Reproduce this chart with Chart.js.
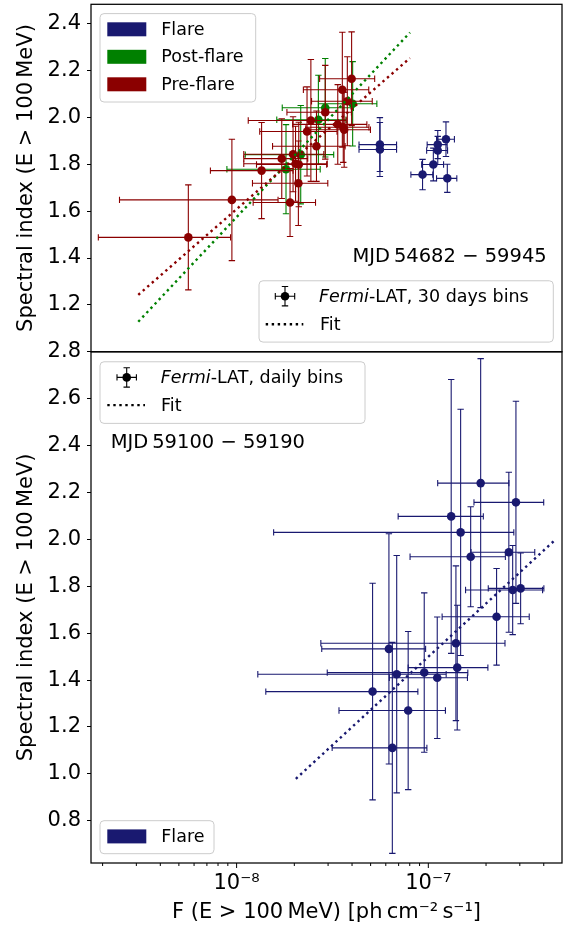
<!DOCTYPE html>
<html>
<head>
<meta charset="utf-8">
<script src="https://cdn.jsdelivr.net/npm/chart.js@4.4.1/dist/chart.umd.min.js"></script>
<style>
  html, body { margin: 0; padding: 0; background: #ffffff; }
  canvas { display: block; }
</style>
</head>
<body>
<canvas id="chart" width="569" height="929" style="width:569px;height:929px"></canvas>
<script>
// ---- Fermi-LAT 30-day bins, MJD 54682 - 59945 ----
const flare30Flux     = [5.59e-8, 5.59e-8, 1.236e-7, 1.12e-7, 1.12e-7, 1.062e-7, 9.33e-8, 1.256e-7];
const flare30FluxErr  = [1.24e-8, 1.24e-8, 1.32e-8, 1.34e-8, 1.40e-8, 1.39e-8, 1.22e-8, 1.52e-8];
const flare30Index    = [1.884, 1.863, 1.907, 1.884, 1.859, 1.799, 1.756, 1.740];
const flare30IndexErr = [0.115, 0.115, 0.074, 0.060, 0.060, 0.070, 0.065, 0.060];

const post30Flux      = [1.81e-8, 2.16e-8, 2.67e-8, 2.90e-8, 4.03e-8];
const post30FluxErr   = [9.2e-9, 1.05e-8, 1.05e-8, 1.17e-8, 1.36e-8];
const post30Index     = [1.779, 1.841, 1.990, 2.041, 2.058];
const post30IndexErr  = [0.19, 0.21, 0.19, 0.21, 0.18];

const pre30Flux       = [5.6e-9, 9.45e-9, 1.35e-8, 1.72e-8, 1.90e-8, 1.97e-8, 2.03e-8, 2.11e-8, 2.10e-8, 2.33e-8,
                         2.44e-8, 2.61e-8, 2.90e-8, 3.37e-8, 3.60e-8, 3.64e-8, 3.56e-8, 3.78e-8, 3.98e-8];
const pre30FluxErr    = [3.7e-9, 7.0e-9, 6.2e-9, 6.3e-9, 6.8e-9, 8.8e-9, 9.4e-9, 8.4e-9, 8.9e-9, 1.01e-8,
                         1.29e-8, 1.07e-8, 1.07e-8, 1.41e-8, 1.30e-8, 1.35e-8, 1.33e-8, 1.32e-8, 1.27e-8];
const pre30Index      = [1.488, 1.648, 1.773, 1.824, 1.637, 1.843, 1.802, 1.799, 1.719, 1.940,
                         1.987, 1.877, 2.022, 1.970, 1.958, 1.947, 2.118, 2.069, 2.165];
const pre30IndexErr   = [0.224, 0.259, 0.205, 0.170, 0.145, 0.160, 0.160, 0.180, 0.180, 0.190,
                         0.260, 0.150, 0.200, 0.170, 0.150, 0.160, 0.245, 0.190, 0.200];

// linear fits (index vs log flux), end points
const fitPostFlux  = [3.07e-9, 8.02e-8];
const fitPostIndex = [1.128, 2.362];
const fitPreFlux   = [3.07e-9, 8.02e-8];
const fitPreIndex  = [1.243, 2.253];

// ---- Fermi-LAT daily bins, MJD 59100 - 59190 (flare) ----
const dailyFlux     = [1.875e-7, 2.864e-7, 1.316e-7, 1.474e-7, 1.663e-7, 2.63e-7, 2.754e-7, 3.03e-7, 2.27e-7,
                       1.393e-7, 1.415e-7, 6.23e-8, 6.84e-8, 9.52e-8, 1.113e-7, 5.12e-8, 7.85e-8, 6.49e-8];
const dailyFluxErr  = [7.56e-8, 1.134e-7, 6.2e-8, 1.318e-7, 8.6e-8, 9.6e-8, 1.19e-7, 9.76e-8, 1.09e-7,
                       1.118e-7, 6.3e-8, 3.45e-8, 5.55e-8, 6.55e-8, 4.87e-8, 3.7e-8, 4.43e-8, 3.34e-8];
const dailyIndex    = [2.240, 2.158, 2.098, 2.030, 1.926, 1.945, 1.784, 1.791, 1.670,
                       1.557, 1.453, 1.533, 1.425, 1.432, 1.410, 1.351, 1.270, 1.111];
const dailyIndexErr = [0.531, 0.431, 0.584, 0.525, 0.213, 0.341, 0.190, 0.151, 0.206,
                       0.330, 0.266, 0.491, 0.506, 0.340, 0.259, 0.462, 0.337, 0.450];

const fitDailyFlux  = [2.037e-8, 4.574e-7];
const fitDailyIndex = [0.979, 1.997];

// axis ranges and tick values
const fluxMin = 1.74e-9, fluxMax = 4.98e-7;
const topIndexMin = 1.0, topIndexMax = 2.4825;
const botIndexMin = 0.62, botIndexMax = 2.8;
const majorFluxTicks = [1e-8, 1e-7];
const topIndexTicks = [1.2, 1.4, 1.6, 1.8, 2.0, 2.2, 2.4];
const botIndexTicks = [0.8, 1.0, 1.2, 1.4, 1.6, 1.8, 2.0, 2.2, 2.4, 2.6, 2.8];
const periodTop = 'MJD\u200954682 \u2212 59945';
const periodBottom = 'MJD\u200959100 \u2212 59190';

const NAVY = '#191970', GREEN = '#008000', DARKRED = '#8b0000';
const FONT = "'DejaVu Sans', 'Noto Sans', sans-serif";

const toPoints = (xs, ys) => xs.map((x, i) => ({ x: x, y: ys[i] }));

function scatterSet(label, flux, fluxErr, index, indexErr, color, axis, order) {
  return {
    label, type: 'scatter', yAxisID: axis, order,
    data: toPoints(flux, index),
    errors: { flux, fluxErr, index, indexErr },
    pointRadius: 4.3, pointHoverRadius: 4.3, pointBorderWidth: 0,
    backgroundColor: color, borderColor: color, errorColor: color
  };
}
function fitSet(label, flux, index, color, axis) {
  return {
    label, type: 'scatter', yAxisID: axis, order: 1, showLine: true,
    data: toPoints(flux, index),
    borderColor: color, backgroundColor: color, borderWidth: 2.4,
    borderDash: [2.4, 3.6], pointRadius: 0, pointHoverRadius: 0
  };
}

// error bars drawn right before their dataset's markers
const errorBars = {
  id: 'errorBars',
  beforeDatasetDraw(chart, args) {
    const ds = chart.data.datasets[args.index];
    if (!ds.errors) return;
    const xs = chart.scales.x, ys = chart.scales[ds.yAxisID];
    const ctx = chart.ctx;
    const e = ds.errors, cap = 3.2;
    ctx.save();
    ctx.beginPath();
    ctx.rect(xs.left, ys.top, xs.right - xs.left, ys.bottom - ys.top);
    ctx.clip();
    ctx.strokeStyle = ds.errorColor;
    ctx.lineWidth = 1.1;
    e.flux.forEach((f, i) => {
      const px = xs.getPixelForValue(f), py = ys.getPixelForValue(e.index[i]);
      const x0 = xs.getPixelForValue(f - e.fluxErr[i]), x1 = xs.getPixelForValue(f + e.fluxErr[i]);
      const y0 = ys.getPixelForValue(e.index[i] - e.indexErr[i]), y1 = ys.getPixelForValue(e.index[i] + e.indexErr[i]);
      ctx.beginPath();
      ctx.moveTo(x0, py); ctx.lineTo(x1, py);
      ctx.moveTo(px, y0); ctx.lineTo(px, y1);
      ctx.moveTo(x0, py - cap); ctx.lineTo(x0, py + cap);
      ctx.moveTo(x1, py - cap); ctx.lineTo(x1, py + cap);
      ctx.moveTo(px - cap, y0); ctx.lineTo(px + cap, y0);
      ctx.moveTo(px - cap, y1); ctx.lineTo(px + cap, y1);
      ctx.stroke();
    });
    ctx.restore();
  }
};

function roundRect(ctx, x, y, w, h, r) {
  ctx.beginPath();
  ctx.moveTo(x + r, y);
  ctx.arcTo(x + w, y, x + w, y + h, r);
  ctx.arcTo(x + w, y + h, x, y + h, r);
  ctx.arcTo(x, y + h, x, y, r);
  ctx.arcTo(x, y, x + w, y, r);
  ctx.closePath();
}
function legendFrame(ctx, x, y, w, h) {
  roundRect(ctx, x, y, w, h, 4);
  ctx.fillStyle = 'rgba(255,255,255,0.8)';
  ctx.fill();
  ctx.strokeStyle = '#cccccc';
  ctx.lineWidth = 1;
  ctx.stroke();
}
function patchEntry(ctx, x, y, color, text) {
  ctx.fillStyle = color;
  ctx.fillRect(x, y - 7, 39, 14);
  ctx.fillStyle = '#000';
  ctx.font = '17.5px ' + FONT;
  ctx.textAlign = 'left';
  ctx.textBaseline = 'middle';
  ctx.fillText(text, x + 54, y + 1);
}
function markerEntry(ctx, x, y, suffix) {
  const a = 9.7, cap = 3.2;
  ctx.strokeStyle = '#000';
  ctx.lineWidth = 1.1;
  ctx.beginPath();
  ctx.moveTo(x - a, y); ctx.lineTo(x + a, y);
  ctx.moveTo(x, y - a); ctx.lineTo(x, y + a);
  ctx.moveTo(x - a, y - cap); ctx.lineTo(x - a, y + cap);
  ctx.moveTo(x + a, y - cap); ctx.lineTo(x + a, y + cap);
  ctx.moveTo(x - cap, y - a); ctx.lineTo(x + cap, y - a);
  ctx.moveTo(x - cap, y + a); ctx.lineTo(x + cap, y + a);
  ctx.stroke();
  ctx.fillStyle = '#000';
  ctx.beginPath(); ctx.arc(x, y, 4.3, 0, Math.PI * 2); ctx.fill();
  ctx.textAlign = 'left';
  ctx.textBaseline = 'middle';
  ctx.font = 'italic 17.5px ' + FONT;
  const tx = x + 34;
  ctx.fillText('Fermi', tx, y + 1);
  const w = ctx.measureText('Fermi').width;
  ctx.font = '17.5px ' + FONT;
  ctx.fillText(suffix, tx + w, y + 1);
}
function fitEntry(ctx, x0, x1, y, textX) {
  ctx.save();
  ctx.strokeStyle = '#000';
  ctx.lineWidth = 2.4;
  ctx.setLineDash([2.4, 3.6]);
  ctx.beginPath(); ctx.moveTo(x0, y); ctx.lineTo(x1, y); ctx.stroke();
  ctx.restore();
  ctx.fillStyle = '#000';
  ctx.font = '17.5px ' + FONT;
  ctx.textAlign = 'left';
  ctx.textBaseline = 'middle';
  ctx.fillText('Fit', textX, y + 1);
}

const decorations = {
  id: 'decorations',
  beforeDraw(chart) {
    const ctx = chart.ctx;
    ctx.save();
    ctx.fillStyle = '#fff';
    ctx.fillRect(0, 0, chart.width, chart.height);
    ctx.restore();
  },
  afterDatasetsDraw(chart) {
    const ctx = chart.ctx;
    const xs = chart.scales.x, yt = chart.scales.yTop, yb = chart.scales.yBot;
    const L = xs.left, R = xs.right;
    ctx.save();

    // top panel: group legend
    legendFrame(ctx, L + 9, yt.top + 9.3, 155.7, 88.4);
    patchEntry(ctx, L + 16.3, yt.top + 25, NAVY, 'Flare');
    patchEntry(ctx, L + 16.3, yt.top + 52.5, GREEN, 'Post-flare');
    patchEntry(ctx, L + 16.3, yt.top + 80, DARKRED, 'Pre-flare');

    // top panel: time range
    ctx.fillStyle = '#000';
    ctx.font = '19.5px ' + FONT;
    ctx.textAlign = 'right';
    ctx.textBaseline = 'middle';
    ctx.fillText(periodTop, R - 15.3, yt.bottom - 95);

    // top panel: symbol legend
    legendFrame(ctx, 259, yt.bottom - 71, R - 8.7 - 259, 61.3);
    markerEntry(ctx, 285, yt.bottom - 55.6, '-LAT, 30 days bins');
    fitEntry(ctx, 265.7, 303.3, yt.bottom - 27.6, 320);

    // bottom panel: symbol legend
    legendFrame(ctx, L + 9, yb.top + 10, 265, 61.6);
    markerEntry(ctx, 126.7, yb.top + 25.6, '-LAT, daily bins');
    fitEntry(ctx, 107.3, 145, yb.top + 53.3, 161);

    // bottom panel: time range
    ctx.fillStyle = '#000';
    ctx.font = '19.5px ' + FONT;
    ctx.textAlign = 'left';
    ctx.textBaseline = 'middle';
    ctx.fillText(periodBottom, L + 19.7, yb.top + 91.6);

    // bottom panel: group legend
    legendFrame(ctx, L + 9, yb.bottom - 42.3, 114, 33);
    patchEntry(ctx, L + 16.3, yb.bottom - 26.6, NAVY, 'Flare');

    ctx.restore();
  },
  afterDraw(chart) {
    const ctx = chart.ctx;
    const xs = chart.scales.x, yt = chart.scales.yTop, yb = chart.scales.yBot;
    ctx.save();
    // minor and major ticks on the flux axis
    ctx.strokeStyle = '#000';
    ctx.lineWidth = 1;
    for (let e = -9; e <= -7; e++) {
      for (let m = 1; m <= 9; m++) {
        const v = m * Math.pow(10, e);
        if (v < fluxMin || v > fluxMax) continue;
        const p = xs.getPixelForValue(v);
        const len = m === 1 ? 5 : 3;
        ctx.beginPath(); ctx.moveTo(p, yb.bottom); ctx.lineTo(p, yb.bottom + len); ctx.stroke();
      }
    }
    // panel frames
    ctx.lineWidth = 1.25;
    ctx.strokeRect(xs.left, yt.top, xs.right - xs.left, yt.bottom - yt.top);
    ctx.strokeRect(xs.left, yb.top, xs.right - xs.left, yb.bottom - yb.top);
    ctx.restore();
  }
};

const supDigits = { '0': '\u2070', '1': '\u00b9', '2': '\u00b2', '3': '\u00b3', '4': '\u2074',
                    '5': '\u2075', '6': '\u2076', '7': '\u2077', '8': '\u2078', '9': '\u2079' };
function powerLabel(v) {
  const e = Math.round(Math.log10(v));
  const s = String(Math.abs(e)).split('').map(d => supDigits[d]).join('');
  return '10' + (e < 0 ? '\u207b' : '') + s;
}

// tick labels may overhang the plot area; keep the plot area fixed
function noOverhang(s) {
  s.paddingTop = 0; s.paddingBottom = 0; s.paddingLeft = 0; s.paddingRight = 0;
}

const indexAxis = (min, max, weight, stackWeight, tickValues) => ({
  type: 'linear', position: 'left', stack: 'panels', weight, stackWeight,
  min, max, offset: false,
  border: { display: false },
  grid: { display: true, drawOnChartArea: false, drawTicks: true, tickLength: 4, tickColor: '#000', tickWidth: 1 },
  ticks: {
    autoSkip: false, color: '#000', padding: 6,
    font: { family: FONT, size: 21 },
    callback: v => v.toFixed(1)
  },
  title: {
    display: true, text: 'Spectral index (E > 100\u2009MeV)', color: '#000',
    font: { family: FONT, size: 21 }, padding: { top: 14, bottom: 0 }
  },
  afterBuildTicks: s => { s.ticks = tickValues.map(v => ({ value: v })); },
  afterFit: s => { s.width = 91; noOverhang(s); }
});

new Chart(document.getElementById('chart'), {
  type: 'scatter',
  data: {
    datasets: [
      fitSet('Fit (pre-flare)', fitPreFlux, fitPreIndex, DARKRED, 'yTop'),
      fitSet('Fit (post-flare)', fitPostFlux, fitPostIndex, GREEN, 'yTop'),
      fitSet('Fit (daily)', fitDailyFlux, fitDailyIndex, NAVY, 'yBot'),
      scatterSet('Pre-flare', pre30Flux, pre30FluxErr, pre30Index, pre30IndexErr, DARKRED, 'yTop', 3),
      scatterSet('Post-flare', post30Flux, post30FluxErr, post30Index, post30IndexErr, GREEN, 'yTop', 4),
      scatterSet('Flare', flare30Flux, flare30FluxErr, flare30Index, flare30IndexErr, NAVY, 'yTop', 5),
      scatterSet('Flare (daily)', dailyFlux, dailyFluxErr, dailyIndex, dailyIndexErr, NAVY, 'yBot', 5)
    ]
  },
  options: {
    responsive: false,
    animation: false,
    events: [],
    layout: { padding: { top: 4, right: 7, bottom: 0, left: 0 } },
    plugins: { legend: { display: false }, tooltip: { enabled: false } },
    scales: {
      x: {
        type: 'logarithmic', position: 'bottom', min: fluxMin, max: fluxMax,
        border: { display: false },
        grid: { display: false, drawTicks: true, tickLength: 5 },
        ticks: {
          autoSkip: false, maxRotation: 0, color: '#000', padding: 3,
          font: { family: FONT, size: 21 },
          callback: v => powerLabel(v)
        },
        afterBuildTicks: s => { s.ticks = majorFluxTicks.map(v => ({ value: v })); },
        title: {
          display: true, text: 'F (E > 100\u2009MeV) [ph\u2009cm\u207b\u00b2\u2009s\u207b\u00b9]', color: '#000',
          font: { family: FONT, size: 21 }, padding: { top: 2, bottom: 4 }
        },
        afterFit: s => { s.height = 66; noOverhang(s); }
      },
      yTop: indexAxis(topIndexMin, topIndexMax, 2, 347.6, topIndexTicks),
      yBot: indexAxis(botIndexMin, botIndexMax, 1, 511.4, botIndexTicks)
    }
  },
  plugins: [errorBars, decorations]
});
</script>
</body>
</html>
